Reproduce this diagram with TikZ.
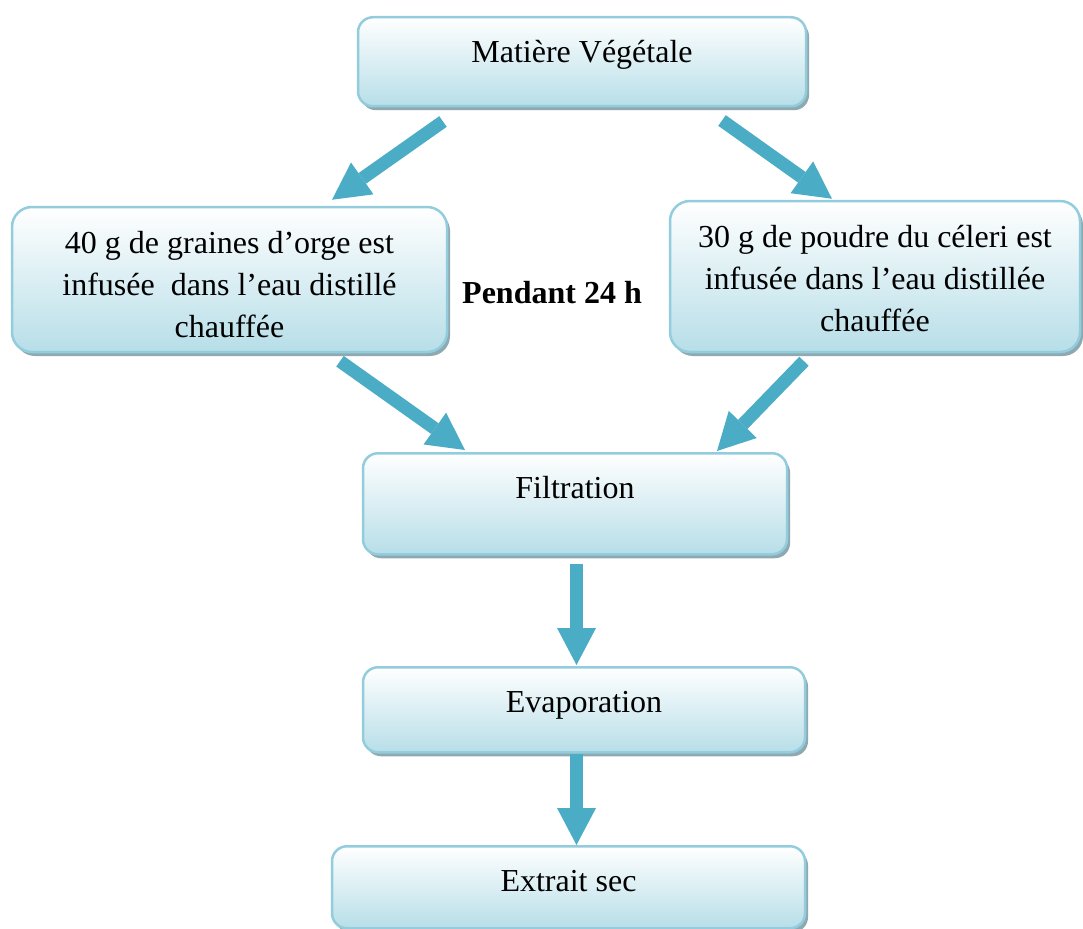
\documentclass[tikz,border=0pt]{standalone}
\usepackage{fontspec}
\setmainfont{Liberation Serif}
\usetikzlibrary{arrows.meta,shadows}

\definecolor{flowblue}{HTML}{4BACC6}
\definecolor{boxline}{HTML}{93CDDD}
\definecolor{boxfill}{HTML}{B7DEE8}
\definecolor{boxshade}{HTML}{8FA9B1}

\tikzset{
  stage/.style={rectangle,rounded corners=15pt,draw=boxline,line width=2.5pt,
    top color=white,bottom color=boxfill,
    drop shadow={shadow xshift=3pt,shadow yshift=-4pt,fill=boxshade,opacity=1},
    inner xsep=0pt,inner ysep=0pt,text height=45pt},
  infusion/.style={rectangle,rounded corners=20pt,draw=boxline,line width=2.5pt,
    top color=white,bottom color=boxfill,
    drop shadow={shadow xshift=3pt,shadow yshift=-4pt,fill=boxshade,opacity=1},
    inner xsep=0pt,align=center},
  flow/.style={draw=flowblue,line width=13pt,
    -{Triangle[length=37pt,width=39pt,line width=0pt,fill=flowblue]}},
}

\begin{document}
\begin{tikzpicture}[x=1pt,y=-1pt,font=\fontsize{32}{42}\selectfont]
    \useasboundingbox (0,0) rectangle (1083,928);

    \node[stage,anchor=north,minimum width=448pt,text depth=44pt] (mat) at (582,16) {Matière Végétale};
    \node[infusion,minimum width=435pt,minimum height=145pt] (orge) at (229.5,279.5)
      {\rule{0pt}{33pt}40 g de graines d’orge est\\infusée\ \ dans l’eau distillé\\chauffée};
    \node[infusion,minimum width=410pt,minimum height=151pt] (celeri) at (875,276.5)
      {\rule{0pt}{27pt}30 g de poudre du céleri est\\infusée dans l’eau distillée\\chauffée};
    \node[anchor=base] (duree) at (552,303) {\bfseries Pendant 24 h};
    \node[stage,anchor=north,minimum width=424pt,text depth=56pt] (filt) at (575,452) {Filtration};
    \node[stage,anchor=north,minimum width=442pt,text depth=40pt] (evap) at (584,666) {Evaporation};
    \node[stage,anchor=north,minimum width=473pt,text depth=37pt] (ext) at (568.5,845) {Extrait sec};

    \draw[flow] ([xshift=-139pt,yshift=-14pt]mat.south) -- ([xshift=102.5pt,yshift=6pt]orge.north);
    \draw[flow] ([xshift=140pt,yshift=-13pt]mat.south) -- ([xshift=-43pt,yshift=1pt]celeri.north);
    \draw[flow] ([xshift=110.5pt,yshift=-8pt]orge.south) -- ([xshift=-110pt,yshift=2pt]filt.north);
    \draw[flow] ([xshift=-71pt,yshift=-8pt]celeri.south) -- ([xshift=142pt,yshift=1pt]filt.north);
    \draw[flow] ([xshift=1.5pt,yshift=-8pt]filt.south) -- ([xshift=-7.5pt,yshift=1pt]evap.north);
    \draw[flow] ([xshift=-7.5pt]evap.south) -- ([xshift=8pt]ext.north);
\end{tikzpicture}
\end{document}
